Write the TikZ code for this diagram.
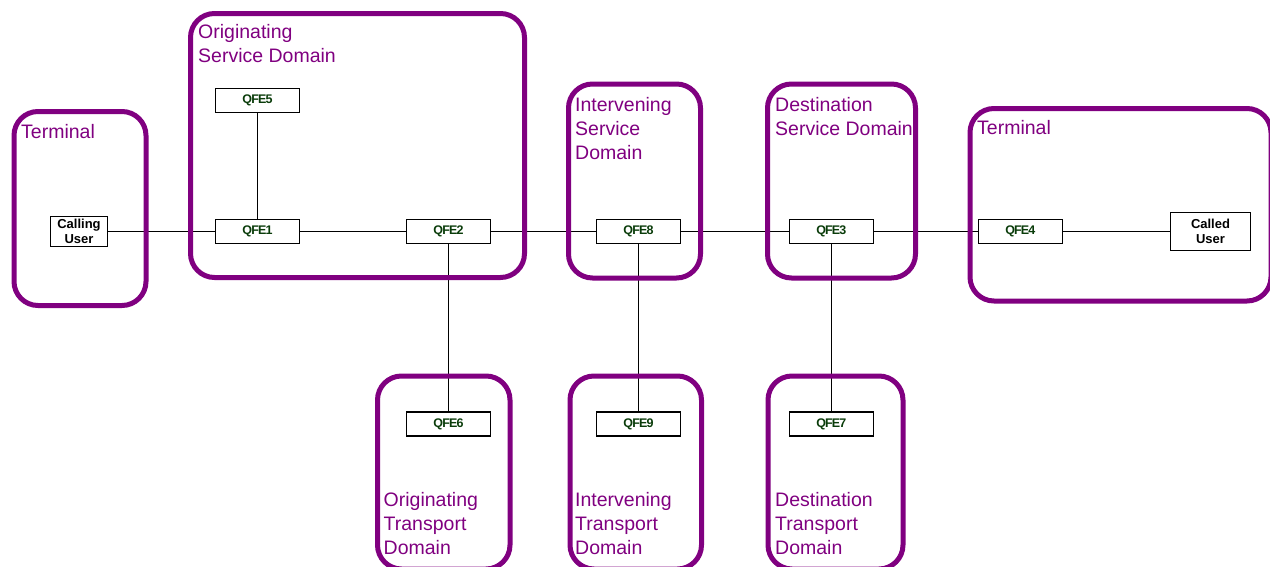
\documentclass[tikz,border=0pt]{standalone}
\usepackage{fontspec}
\setmainfont{Liberation Sans}
\pgfdeclarelayer{background}
\pgfsetlayers{background,main}
\definecolor{dompurple}{RGB}{128,0,128}
\definecolor{qfegreen}{RGB}{10,60,10}
\tikzset{
  domainbox/.style={draw=dompurple, line width=5pt, rounded corners=24pt},
  domlabel/.style={anchor=north west, inner sep=0pt, align=left, text=dompurple,
    font=\fontsize{19.5}{24}\selectfont},
  qfe/.style={draw, line width=1.3pt, minimum width=84pt, minimum height=24pt, inner sep=0pt,
    text=qfegreen, font=\fontsize{12.5}{13}\selectfont\bfseries\addfontfeature{LetterSpace=-7}},
  userbox/.style={draw, line width=1.3pt, inner sep=0pt, align=center,
    font=\fontsize{13}{15.5}\selectfont\bfseries},
  link/.style={line width=1.2pt}
}
\begin{document}
\begin{tikzpicture}[x=1pt, y=-1pt]
\useasboundingbox (0,0) rectangle (1270,566);

% service and terminal domains
\draw[domainbox] (14,111.5) rectangle (146,305.5);
\draw[domainbox] (190.5,13.5) rectangle (524.5,277.5);
\draw[domainbox] (568.5,84) rectangle (700.5,278);
\draw[domainbox] (767.5,84) rectangle (915.5,278);
\draw[domainbox] (970,108.5) rectangle (1271,301);

% transport domains
\draw[domainbox] (377.5,376) rectangle (510,569);
\draw[domainbox] (570,376) rectangle (701.5,569);
\draw[domainbox] (768,376) rectangle (903,569);

% domain labels
\node[domlabel] (tl) at (21,124) {Terminal};
\node[domlabel] (osd) at (198,24) {Originating\\Service Domain};
\node[domlabel] (isd) at (575,97) {Intervening\\Service\\Domain};
\node[domlabel] (dsd) at (775,97) {Destination\\Service Domain};
\node[domlabel] (tr) at (977,120) {Terminal};
\node[domlabel] (otd) at (383.5,492.5) {Originating\\Transport\\Domain};
\node[domlabel] (itd) at (575,492.5) {Intervening\\Transport\\Domain};
\node[domlabel] (dtd) at (775,492.5) {Destination\\Transport\\Domain};

% functional entities
\node[userbox, minimum width=56.5pt, minimum height=30.5pt] (calling) at (79,231.5) {Calling\\User};
\node[userbox, minimum width=79.5pt, minimum height=37.5pt] (called) at (1210.5,231.5) {Called\\User};
\node[qfe] (q5) at (257.5,100.5) {QFE5};
\node[qfe] (q1) at (257.5,231.5) {QFE1};
\node[qfe] (q2) at (448.5,231.5) {QFE2};
\node[qfe] (q8) at (638.5,231.5) {QFE8};
\node[qfe] (q3) at (831.3,231.5) {QFE3};
\node[qfe] (q4) at (1020.3,231.5) {QFE4};
\node[qfe] (q6) at (448.5,424) {QFE6};
\node[qfe] (q9) at (638.5,424) {QFE9};
\node[qfe] (q7) at (831.3,424) {QFE7};

% connections
\begin{pgfonlayer}{background}
\draw[link] (calling) -- (q1);
\draw[link] (q1) -- (q2);
\draw[link] (q2) -- (q8);
\draw[link] (q8) -- (q3);
\draw[link] (q3) -- (q4);
\draw[link] (q4) -- (called);
\draw[link] (q5) -- (q1);
\draw[link] (q2.south) -- (q6.north);
\draw[link] (q8) -- (q9);
\draw[link] (q3) -- (q7);
\end{pgfonlayer}
\end{tikzpicture}
\end{document}
